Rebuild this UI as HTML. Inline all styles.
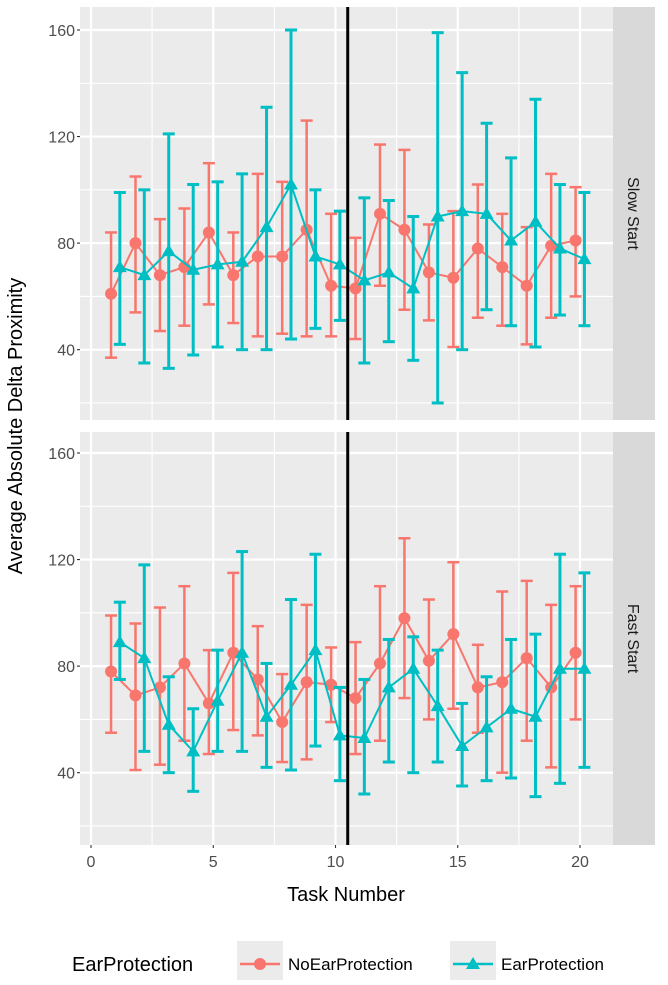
<!DOCTYPE html>
<html><head><meta charset="utf-8"><style>
body{margin:0;background:#fff;font-family:"Liberation Sans",sans-serif}
svg text{font-family:"Liberation Sans",sans-serif}
</style></head><body>
<svg id="c" width="668" height="980" xmlns="http://www.w3.org/2000/svg"></svg>
<script>
const tasks=[1,2,3,4,5,6,7,8,9,10,11,12,13,14,15,16,17,18,19,20];
const slowNoMean=[61,80,68,71,84,68,75,75,85,64,63,91,85,69,67,78,71,64,79,81];
const slowNoLo=[37,54,47,49,57,50,45,46,45,45,44,64,55,51,41,52,49,42,52,60];
const slowNoHi=[84,105,89,93,110,84,106,103,126,91,82,117,115,87,92,102,91,86,106,101];
const slowEarMean=[71,68,77,70,72,73,86,102,75,72,66,69,63,90,92,91,81,88,78,74];
const slowEarLo=[42,35,33,38,41,40,40,44,48,51,35,43,36,20,40,55,49,41,53,49];
const slowEarHi=[99,100,121,102,103,106,131,160,100,92,97,96,90,159,144,125,112,134,102,99];
const fastNoMean=[78,69,72,81,66,85,75,59,74,73,68,81,98,82,92,72,74,83,72,85];
const fastNoLo=[55,41,43,52,47,56,54,44,45,59,47,52,68,60,64,55,40,52,42,60];
const fastNoHi=[99,96,102,110,86,115,95,77,103,87,89,110,128,105,119,88,108,112,103,110];
const fastEarMean=[89,83,58,48,67,85,61,73,86,54,53,72,79,65,50,57,64,61,79,79];
const fastEarLo=[75,48,40,33,48,48,42,41,50,37,32,44,40,44,35,37,38,31,36,42];
const fastEarHi=[104,118,76,64,86,123,81,105,122,72,75,90,91,86,66,76,90,92,122,115];
const xTicks=[0,5,10,15,20];
const yTicks=[40,80,120,160];
const NS="http://www.w3.org/2000/svg";
const svg=document.getElementById('c');
function mk(t,a,p){const e=document.createElementNS(NS,t);for(const k in a)e.setAttribute(k,a[k]);(p||svg).appendChild(e);return e;}
const PX0=80,PX1=613;
const sx=v=>91+v*24.45;
const RED="#F8766D",TEAL="#00BFC4";
const panels=[
 {top:7,bot:420,y0:30,label:"Slow Start",name:"slow-start",d:[[slowNoMean,slowNoLo,slowNoHi],[slowEarMean,slowEarLo,slowEarHi]]},
 {top:432,bot:845,y0:453,label:"Fast Start",name:"fast-start",d:[[fastNoMean,fastNoLo,fastNoHi],[fastEarMean,fastEarLo,fastEarHi]]}
];
panels.forEach(p=>{
 const sy=v=>p.y0+(160-v)*2.664;
 const g=mk('g',{});
 
 
 mk('rect',{x:PX0,y:p.top,width:PX1-PX0,height:p.bot-p.top,fill:'#EBEBEB'},g);
 [20,60,100,140].forEach(v=>{const y=sy(v);if(y>p.top&&y<p.bot)mk('line',{x1:PX0,x2:PX1,y1:y,y2:y,stroke:'#fff','stroke-width':1.1},g);});
 [2.5,7.5,12.5,17.5].forEach(v=>mk('line',{x1:sx(v),x2:sx(v),y1:p.top,y2:p.bot,stroke:'#fff','stroke-width':1.1},g));
 yTicks.forEach(v=>{const y=sy(v);mk('line',{x1:PX0,x2:PX1,y1:y,y2:y,stroke:'#fff','stroke-width':2.2},g);
  mk('line',{x1:PX0-3,x2:PX0,y1:y,y2:y,stroke:'#333','stroke-width':1.1},g);
  const t=mk('text',{x:PX0-5,y:y+6,'text-anchor':'end','font-size':16,fill:'#4D4D4D'},g);t.textContent=v;
  });
 xTicks.forEach(v=>mk('line',{x1:sx(v),x2:sx(v),y1:p.top,y2:p.bot,stroke:'#fff','stroke-width':2.2},g));
 mk('rect',{x:PX1,y:p.top,width:42,height:p.bot-p.top,fill:'#D9D9D9'},g);
 const st=mk('text',{x:0,y:0,'font-size':16,fill:'#1A1A1A','text-anchor':'middle',transform:`translate(${PX1+15},${(p.top+p.bot)/2}) rotate(90)`},g);
 st.textContent=p.label;
 p.d.forEach((s,si)=>{
  const col=si?TEAL:RED,off=si?0.18:-0.18,sw=si?3:2.5;
  const sg=mk('g',{},g);
  
  
  tasks.forEach((t,i)=>{const x=sx(t+off);
   mk('line',{x1:x,x2:x,y1:sy(s[1][i]),y2:sy(s[2][i]),stroke:col,'stroke-width':sw},sg);
   [s[1][i],s[2][i]].forEach(v=>mk('line',{x1:x-6,x2:x+6,y1:sy(v),y2:sy(v),stroke:col,'stroke-width':sw},sg));});
  mk('polyline',{points:tasks.map((t,i)=>sx(t+off)+','+sy(s[0][i])).join(' '),fill:'none',stroke:col,'stroke-width':2},sg);
  tasks.forEach((t,i)=>{const x=sx(t+off),y=sy(s[0][i]);
   if(si){const m=mk('polygon',{points:`${x},${y-7} ${x-7},${y+5} ${x+7},${y+5}`,fill:col},sg);}
   else{const m=mk('circle',{cx:x,cy:y,r:6,fill:col},sg);}});
 });
 mk('line',{x1:sx(10.5),x2:sx(10.5),y1:p.top,y2:p.bot,stroke:'#000','stroke-width':3},g);
});
xTicks.forEach(v=>{mk('line',{x1:sx(v),x2:sx(v),y1:845,y2:848,stroke:'#333','stroke-width':1.1});
 const t=mk('text',{x:sx(v),y:867,'text-anchor':'middle','font-size':16,fill:'#4D4D4D'});t.textContent=v;
 });
let t=mk('text',{x:346,y:901,'text-anchor':'middle','font-size':20,fill:'#000'});t.textContent='Task Number';

t=mk('text',{x:0,y:0,'text-anchor':'middle','font-size':20,fill:'#000',transform:'translate(22,426) rotate(-90)'});t.textContent='Average Absolute Delta Proximity';

const lg=mk('g',{});
t=mk('text',{x:72,y:971,'font-size':20,fill:'#000'},lg);t.textContent='EarProtection';
[[237,RED,'NoEarProtection',0],[450,TEAL,'EarProtection',1]].forEach(([x,c,l,tri])=>{
 const e=mk('g',{},lg);
 mk('rect',{x:x,y:941,width:46,height:46,fill:'#EBEBEB'},e);
 mk('line',{x1:x+3,x2:x+43,y1:964,y2:964,stroke:c,'stroke-width':2.5},e);
 if(tri)mk('polygon',{points:`${x+23},${957} ${x+16},${969} ${x+30},${969}`,fill:c},e);
 else mk('circle',{cx:x+23,cy:964,r:6,fill:c},e);
 const tt=mk('text',{x:x+51,y:970,'font-size':17,fill:'#000'},e);tt.textContent=l;});
</script>
</body></html>
